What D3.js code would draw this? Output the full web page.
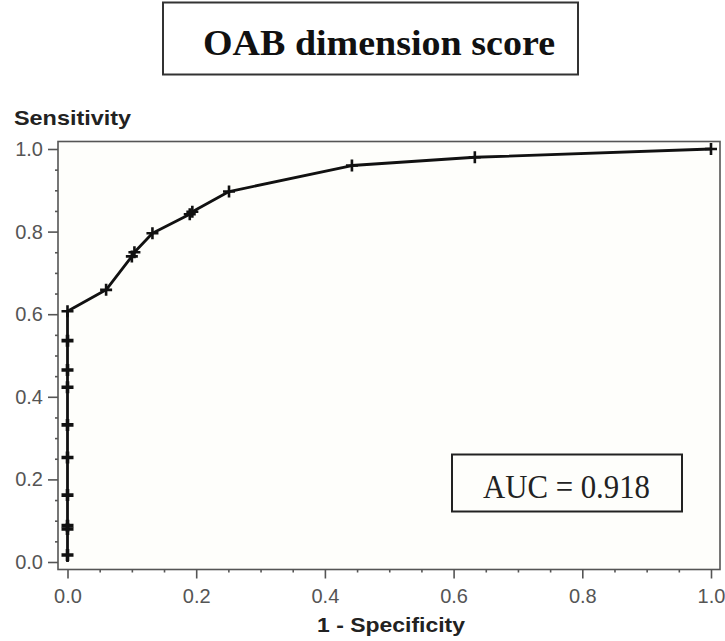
<!DOCTYPE html>
<html>
<head>
<meta charset="utf-8">
<script src="https://cdn.jsdelivr.net/npm/d3@7"></script>
<style>
  body { margin: 0; background: #ffffff; }
  svg { display: block; }
</style>
</head>
<body>
<svg id="chart" width="725" height="641"></svg>
<script>
// ROC curve of the OAB dimension score: false positive rate vs. true positive rate
const fpr = [0, 0, 0, 0, 0, 0, 0, 0, 0, 0, 0, 0.060, 0.100, 0.104, 0.132, 0.190, 0.194, 0.251, 0.442, 0.633, 1.0];
const tpr = [0, 0.017, 0.080, 0.088, 0.162, 0.253, 0.332, 0.423, 0.465, 0.536, 0.607, 0.659, 0.740, 0.750, 0.796, 0.842, 0.848, 0.897, 0.960, 0.980, 1.0];

const majorTicks = [0.0, 0.2, 0.4, 0.6, 0.8, 1.0];
const minorTicks = [0.05, 0.1, 0.15, 0.25, 0.3, 0.35, 0.45, 0.5, 0.55, 0.65, 0.7, 0.75, 0.85, 0.9, 0.95];

const titleText = "OAB dimension score";
const aucText = "AUC = 0.918";
const xTitle = "1 - Specificity";
const yTitle = "Sensitivity";

const svg = d3.select("#chart");

const x = d3.scaleLinear().domain([0, 1]).range([67.5, 711]);
const y = d3.scaleLinear().domain([0, 1]).range([562, 149]);

// plot frame sits slightly outside the data range
const frame = { left: 58, right: 720, top: 141.5, bottom: 569.5 };

// title box
svg.append("rect")
  .attr("x", 163).attr("y", 2.5)
  .attr("width", 415).attr("height", 72)
  .attr("fill", "#ffffff")
  .attr("stroke", "#333").attr("stroke-width", 2);
svg.append("text")
  .attr("x", 203).attr("y", 55)
  .attr("font-family", "'Liberation Serif', 'Times New Roman', serif")
  .attr("font-weight", "bold")
  .attr("font-size", 35)
  .attr("textLength", 352)
  .attr("lengthAdjust", "spacingAndGlyphs")
  .attr("fill", "#111")
  .text(titleText);

// plot area
svg.append("rect")
  .attr("x", frame.left).attr("y", frame.top)
  .attr("width", frame.right - frame.left)
  .attr("height", frame.bottom - frame.top)
  .attr("fill", "#fefefb")
  .attr("stroke", "#555").attr("stroke-width", 1.6);

const labelFont = "'Liberation Sans', Arial, sans-serif";

// y axis: minor and major ticks
const yMinor = svg.append("g")
  .attr("transform", `translate(${frame.left},0)`)
  .call(d3.axisLeft(y).tickValues(minorTicks).tickSize(3).tickFormat(""));
const yMajor = svg.append("g")
  .attr("transform", `translate(${frame.left},0)`)
  .call(d3.axisLeft(y).tickValues(majorTicks).tickSize(10).tickPadding(5).tickFormat(d3.format(".1f")));

// x axis: minor and major ticks
const xMinor = svg.append("g")
  .attr("transform", `translate(0,${frame.bottom})`)
  .call(d3.axisBottom(x).tickValues(minorTicks).tickSize(3).tickFormat(""));
const xMajor = svg.append("g")
  .attr("transform", `translate(0,${frame.bottom})`)
  .call(d3.axisBottom(x).tickValues(majorTicks).tickSize(9).tickPadding(10).tickFormat(d3.format(".1f")));

[yMinor, yMajor, xMinor, xMajor].forEach(g => {
  g.select(".domain").remove();
  g.selectAll(".tick line").attr("stroke", "#555").attr("stroke-width", 1.6);
  g.selectAll(".tick text")
    .attr("font-family", labelFont)
    .attr("font-size", 20)
    .attr("fill", "#555");
});

// axis titles
svg.append("text")
  .attr("x", 14).attr("y", 125)
  .attr("font-family", labelFont)
  .attr("font-weight", "bold")
  .attr("font-size", 21)
  .attr("textLength", 117)
  .attr("lengthAdjust", "spacingAndGlyphs")
  .attr("fill", "#222")
  .text(yTitle);
svg.append("text")
  .attr("x", 317).attr("y", 632)
  .attr("font-family", labelFont)
  .attr("font-weight", "bold")
  .attr("font-size", 21)
  .attr("textLength", 148)
  .attr("lengthAdjust", "spacingAndGlyphs")
  .attr("fill", "#222")
  .text(xTitle);

// ROC curve
const points = fpr.map((f, i) => [f, tpr[i]]);
svg.append("path")
  .datum(points)
  .attr("fill", "none")
  .attr("stroke", "#111")
  .attr("stroke-width", 2.8)
  .attr("stroke-linejoin", "round")
  .attr("d", d3.line().x(d => x(d[0])).y(d => y(d[1])));

// plus markers at each cut-off (heavier along the vertical segment)
svg.append("g")
  .selectAll("path")
  .data(points.slice(1))
  .join("path")
  .attr("transform", d => `translate(${x(d[0])},${y(d[1])})`)
  .attr("d", "M-6,0H6M0,-6V6")
  .attr("fill", "none")
  .attr("stroke", "#111")
  .attr("stroke-width", d => (d[0] === 0 && d[1] < 0.6) ? 3.6 : 2.6);

// AUC box
svg.append("rect")
  .attr("x", 452).attr("y", 454.5)
  .attr("width", 230).attr("height", 57)
  .attr("fill", "#fefefb")
  .attr("stroke", "#222").attr("stroke-width", 2);
svg.append("text")
  .attr("x", 483).attr("y", 498)
  .attr("font-family", "'Liberation Serif', 'Times New Roman', serif")
  .attr("font-size", 33)
  .attr("textLength", 167)
  .attr("lengthAdjust", "spacingAndGlyphs")
  .attr("fill", "#222")
  .text(aucText);
</script>
</body>
</html>
